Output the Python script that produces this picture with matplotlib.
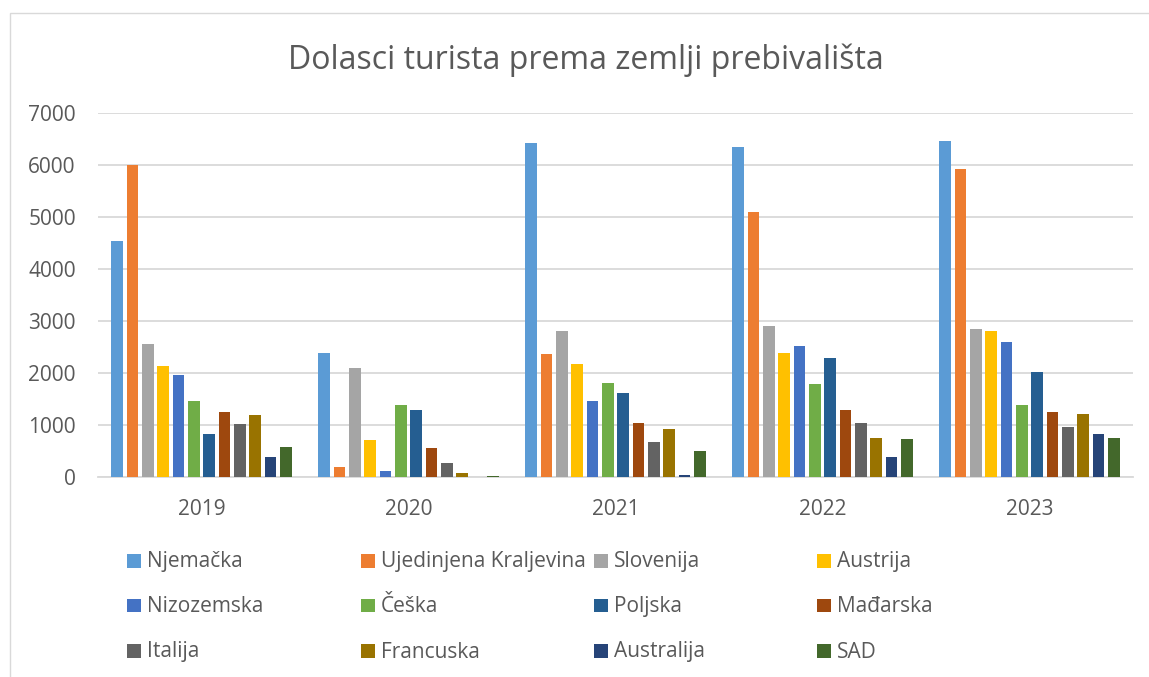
import matplotlib
matplotlib.use("Agg")
import matplotlib.pyplot as plt
from matplotlib.patches import Rectangle
import numpy as np

# Tourist arrivals by country of residence
years = ["2019", "2020", "2021", "2022", "2023"]
countries = ["Njemačka", "Ujedinjena Kraljevina", "Slovenija", "Austrija",
             "Nizozemska", "Češka", "Poljska", "Mađarska",
             "Italija", "Francuska", "Australija", "SAD"]

njemacka   = [4530, 2370, 6420, 6335, 6455]
uk         = [6000, 195, 2360, 5095, 5915]
slovenija  = [2550, 2090, 2795, 2905, 2840]
austrija   = [2135, 705, 2165, 2380, 2810]
nizozemska = [1960, 110, 1460, 2505, 2585]
ceska      = [1455, 1385, 1810, 1790, 1370]
poljska    = [830, 1280, 1615, 2275, 2015]
madarska   = [1250, 550, 1040, 1275, 1250]
italija    = [1020, 265, 675, 1030, 960]
francuska  = [1185, 70, 925, 750, 1205]
australija = [380, 0, 30, 370, 820]
sad        = [565, 15, 495, 725, 745]

series = [njemacka, uk, slovenija, austrija, nizozemska, ceska,
          poljska, madarska, italija, francuska, australija, sad]

colors = ["#5B9BD5", "#ED7D31", "#A5A5A5", "#FFC000", "#4472C4", "#70AD47",
          "#255E91", "#9E480E", "#636363", "#997300", "#264478", "#43682B"]

FONT = "Open Sans"
TXT = "#595959"
GRID = "#D9D9D9"

W, H = 1149, 677
fig = plt.figure(figsize=(W / 100, H / 100), dpi=100)
fig.patch.set_facecolor("white")

# chart frame
fig.patches.append(Rectangle((10 / W, -0.1), 1.2, (H - 13) / H + 0.1,
                             transform=fig.transFigure, fill=False,
                             edgecolor=GRID, linewidth=1.0))

ax_l, ax_r = 98 / W, 1133 / W
ax_b, ax_t = (H - 476.7) / H, (H - 112.7) / H
ax = fig.add_axes([ax_l, ax_b, ax_r - ax_l, ax_t - ax_b])

x = np.arange(len(years))
n = len(series)
step = 0.074
bw = 0.057
for i, (vals, c) in enumerate(zip(series, colors)):
    offs = (i - (n - 1) / 2) * step
    ax.bar(x + offs, vals, width=bw, color=c, zorder=3, linewidth=0)

ax.set_xlim(-0.5, len(years) - 0.5)
ax.set_ylim(0, 7000)
ax.set_yticks(range(0, 7001, 1000))
ax.set_xticks(x)
ax.set_xticklabels(years)
ax.yaxis.grid(True, color=GRID, linewidth=1.3, zorder=0)
ax.set_axisbelow(True)
for s in ["top", "right", "left"]:
    ax.spines[s].set_visible(False)
ax.spines["bottom"].set_color(GRID)
ax.spines["bottom"].set_linewidth(1.3)
ax.tick_params(axis="both", length=0, colors=TXT, labelsize=15)
ax.tick_params(axis="y", pad=16)
ax.tick_params(axis="x", pad=16)
for lab in ax.get_xticklabels() + ax.get_yticklabels():
    lab.set_fontfamily(FONT)

fig.text(586 / W, 1 - 60 / H, "Dolasci turista prema zemlji prebivališta",
         ha="center", va="center", fontsize=23, color=TXT, family=FONT)

# legend laid out in four fixed-width columns
col_x = [127.3, 361, 594.3, 817]
row_y = [561, 605.7, 651]
sq = 13.5
for i, (name, c) in enumerate(zip(countries, colors)):
    r, k = divmod(i, 4)
    x0, yc = col_x[k], row_y[r]
    fig.patches.append(Rectangle((x0 / W, 1 - (yc + sq / 2) / H), sq / W, sq / H,
                                 transform=fig.transFigure, facecolor=c,
                                 edgecolor="none"))
    fig.text((x0 + sq + 6.5) / W, 1 - (yc + 1) / H, name, ha="left", va="center",
             fontsize=15, color=TXT, family=FONT)

fig.savefig("out.png", dpi=100, facecolor="white")
